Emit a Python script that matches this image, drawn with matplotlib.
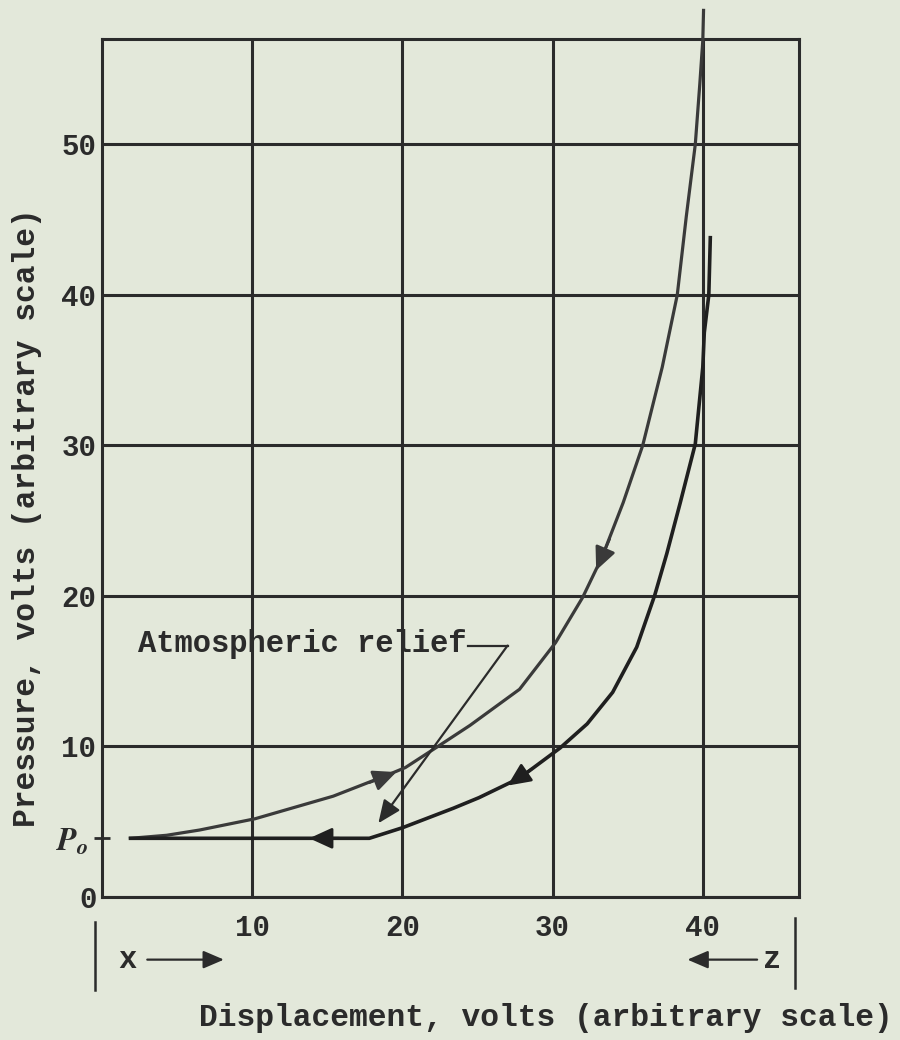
import numpy as np
import matplotlib
matplotlib.use('Agg')
from matplotlib import pyplot as plt
from matplotlib.ticker import FixedLocator

plt.rcParams['font.family'] = ['Liberation Mono', 'DejaVu Sans Mono']
plt.rcParams['font.weight'] = 'bold'
plt.rcParams['mathtext.fontset'] = 'stix'

# ---- values ----
p0 = 3.9
x_ticks = [10, 20, 30, 40]
y_ticks = [0, 10, 20, 30, 40, 50]

# compression curve (upper branch)
x_comp = [1.9, 4.3, 6.5, 10.2, 15.4, 19.0, 20.2, 22.3, 24.5, 27.8, 30.2,
          32.0, 33.3, 34.7, 36.0, 37.3, 38.3, 38.9, 39.5, 39.8, 40.0, 40.05]
y_comp = [3.9, 4.1, 4.45, 5.2, 6.7, 8.1, 8.6, 9.96, 11.4, 13.8, 16.9,
          19.9, 22.6, 26.2, 30.0, 35.2, 40.0, 45.2, 50.0, 54.0, 56.9, 58.9]

# expansion curve (lower branch)
x_exp = [40.5, 40.4, 40.1, 40.0, 39.5, 38.5, 37.6, 36.8, 35.6, 34.0, 32.3,
         30.5, 27.8, 25.1, 23.4, 20.0, 17.8, 1.9]
y_exp = [43.8, 40.0, 37.5, 35.2, 30.1, 26.2, 22.8, 20.05, 16.6, 13.6, 11.5,
         9.9, 7.9, 6.6, 5.9, 4.6, 3.9, 3.9]

# arrow heads: (tail x, tail y, tip x, tip y)
comp_arrows = [(17.8, 7.6, 19.6, 8.3), (33.8, 23.8, 32.9, 21.7)]
exp_arrows = [(28.6, 8.5, 27.0, 7.4), (15.8, 3.9, 13.8, 3.9)]

# "Atmospheric relief" leader
relief_text = (2.4, 16.8)
relief_dash = ([24.4, 27.0], [16.7, 16.7])
relief_tip = (18.4, 4.9)

ink = '#2b2b2b'
paper = '#e3e8da'

fig = plt.figure(figsize=(9, 10.4), dpi=100, facecolor=paper)
ax = fig.add_axes([0.1133, 0.1375, 0.7744, 0.825], facecolor=paper)

ax.set_xlim(0, 46.4)
ax.set_ylim(0, 57.0)

for s in ax.spines.values():
    s.set_color(ink)
    s.set_linewidth(2.2)

ax.xaxis.set_major_locator(FixedLocator(x_ticks))
ax.yaxis.set_major_locator(FixedLocator(y_ticks))
ax.yaxis.set_minor_locator(FixedLocator([p0]))
ax.yaxis.set_minor_formatter(plt.FixedFormatter([r'$\mathit{P_o}$']))
ax.grid(True, which='major', color=ink, linewidth=2.2)
ax.tick_params(axis='x', length=0, pad=12, labelsize=21, colors=ink)
ax.tick_params(axis='y', which='major', length=0, pad=4, labelsize=21, colors=ink)
ax.tick_params(axis='y', which='minor', direction='inout', length=12, width=2,
               pad=4, labelsize=23, colors=ink)

# curves
ax.plot(x_comp, y_comp, color='#3a3a3a', lw=2.3, clip_on=False, zorder=3,
        solid_joinstyle='round')
ax.plot(x_exp, y_exp, color='#1f1f1f', lw=2.6, zorder=3,
        solid_joinstyle='round')

arrow_kw = dict(arrowstyle='-|>,head_length=0.7,head_width=0.32',
                mutation_scale=20, shrinkA=0, shrinkB=0, lw=2)
for x0, y0, x1, y1 in comp_arrows:
    ax.annotate('', xy=(x1, y1), xytext=(x0, y0),
                arrowprops=dict(color='#3a3a3a', **arrow_kw), zorder=4)
for x0, y0, x1, y1 in exp_arrows:
    ax.annotate('', xy=(x1, y1), xytext=(x0, y0),
                arrowprops=dict(color='#1f1f1f', **arrow_kw), zorder=4)

# atmospheric relief label and leader line
ax.text(relief_text[0], relief_text[1], 'Atmospheric relief', fontsize=22,
        color=ink, va='center', ha='left')
ax.plot(relief_dash[0], relief_dash[1], color=ink, lw=1.6)
ax.annotate('', xy=relief_tip, xytext=(relief_dash[0][1], relief_dash[1][1]),
            arrowprops=dict(arrowstyle='-|>,head_length=0.7,head_width=0.3',
                            mutation_scale=20, shrinkA=0, shrinkB=0,
                            lw=1.6, color=ink))

# x / z markers under the axis
tr = ax.transAxes
ax.plot([-0.01, -0.01], [-0.029, -0.108], color=ink, lw=1.8,
        transform=tr, clip_on=False)
ax.text(0.037, -0.073, 'x', transform=tr, fontsize=22, color=ink,
        ha='center', va='center')
ax.annotate('', xy=(0.175, -0.073), xytext=(0.065, -0.073), xycoords=tr,
            textcoords=tr,
            arrowprops=dict(arrowstyle='-|>,head_length=0.7,head_width=0.3',
                            mutation_scale=18, lw=1.6, color=ink,
                            shrinkA=0, shrinkB=0))
ax.plot([0.994, 0.994], [-0.025, -0.106], color=ink, lw=1.8,
        transform=tr, clip_on=False)
ax.text(0.961, -0.073, 'z', transform=tr, fontsize=22, color=ink,
        ha='center', va='center')
ax.annotate('', xy=(0.84, -0.073), xytext=(0.94, -0.073), xycoords=tr,
            textcoords=tr,
            arrowprops=dict(arrowstyle='-|>,head_length=0.7,head_width=0.3',
                            mutation_scale=18, lw=1.6, color=ink,
                            shrinkA=0, shrinkB=0))

# axis titles
fig.text(0.607, 0.021, 'Displacement, volts (arbitrary scale)', fontsize=22.5,
         color=ink, ha='center', va='center')
fig.text(0.030, 0.502, 'Pressure, volts (arbitrary scale)', fontsize=22.5,
         color=ink, ha='center', va='center', rotation=90)

fig.savefig('out.png', dpi=100, facecolor=paper)
